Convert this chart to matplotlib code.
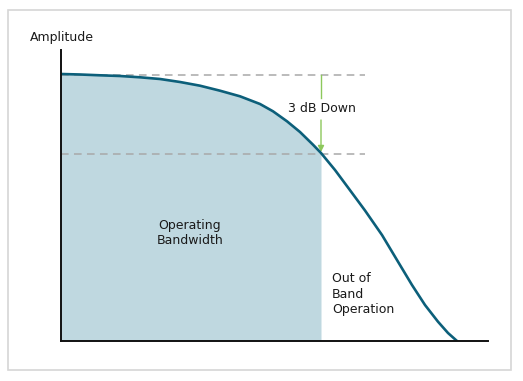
import matplotlib
matplotlib.use('Agg')
import matplotlib.pyplot as plt
from matplotlib.patches import Rectangle

# Frequency response (arbitrary units)
freq = [0, 19, 39, 59, 79, 99, 119, 139, 159, 179, 199, 212, 226, 239, 252, 260,
        274, 287, 304, 321, 337, 351, 364, 377, 387, 396]
amp = [267, 266.5, 265.7, 265, 263.7, 262, 259, 255.3, 250.3, 244.7, 237, 229.7,
       219.7, 209, 196.3, 188, 171, 153.5, 130.5, 106, 79.3, 56, 36, 19.3, 8, 0]
ref_level = 266      # passband level (top dashed line)
cut_level = 187      # 3 dB down level (lower dashed line)
cutoff = 260         # end of operating bandwidth
n_band = 16          # points inside the operating band

W, H = 523, 381
fig = plt.figure(figsize=(W / 100, H / 100), dpi=100)
fig.patch.set_facecolor('white')

# light grey frame around the figure
fig.patches.append(Rectangle((8 / W, 1 - 370 / H), 503 / W, 360 / H,
                             transform=fig.transFigure, fill=False,
                             edgecolor='#d6d6d6', linewidth=1.2))

ax = fig.add_axes([61 / W, 1 - 341 / H, 427 / W, 291 / H])
ax.set_xlim(0, 427)
ax.set_ylim(0, 291)
ax.set_facecolor('none')

# shaded operating band
ax.fill_between(freq[:n_band], amp[:n_band], 0, color='#bfd8e0', linewidth=0, zorder=1)

# reference dashed lines
ax.plot([0, 304], [ref_level, ref_level], color='#a8a8a8', lw=1.1, ls=(0, (5, 3.5)), zorder=2)
ax.plot([0, 304], [cut_level, cut_level], color='#a8a8a8', lw=1.1, ls=(0, (5, 3.5)), zorder=2)

# response curve
ax.plot(freq, amp, color='#0c5f7a', lw=1.9, solid_capstyle='round',
        solid_joinstyle='round', zorder=3)

# 3 dB arrow
green = '#8dc85c'
ax.plot([cutoff, cutoff], [ref_level, 243], color=green, lw=1.0, zorder=2)
ax.annotate('', xy=(cutoff, cut_level + 2), xytext=(cutoff, 221),
            arrowprops=dict(arrowstyle='-|>', color=green, lw=1.0,
                            mutation_scale=9, shrinkA=0, shrinkB=0), zorder=2)
ax.text(cutoff + 1, 232, '3 dB Down', ha='center', va='center',
        fontsize=9, color='#1a1a1a')

# labels
ax.text(129, 108, 'Operating\nBandwidth', ha='center', va='center',
        fontsize=9, color='#1a1a1a', linespacing=1.2)
ax.text(271, 47, 'Out of\nBand\nOperation', ha='left', va='center',
        fontsize=9, color='#1a1a1a', linespacing=1.2)
fig.text(30 / W, 1 - 37 / H, 'Amplitude', ha='left', va='center',
         fontsize=9, color='#1a1a1a')

# axes: only left and bottom lines
for s in ['top', 'right']:
    ax.spines[s].set_visible(False)
for s in ['left', 'bottom']:
    ax.spines[s].set_color('#111111')
    ax.spines[s].set_linewidth(1.4)
    ax.spines[s].set_zorder(4)
ax.set_xticks([])
ax.set_yticks([])

fig.savefig('out.png', dpi=100)
